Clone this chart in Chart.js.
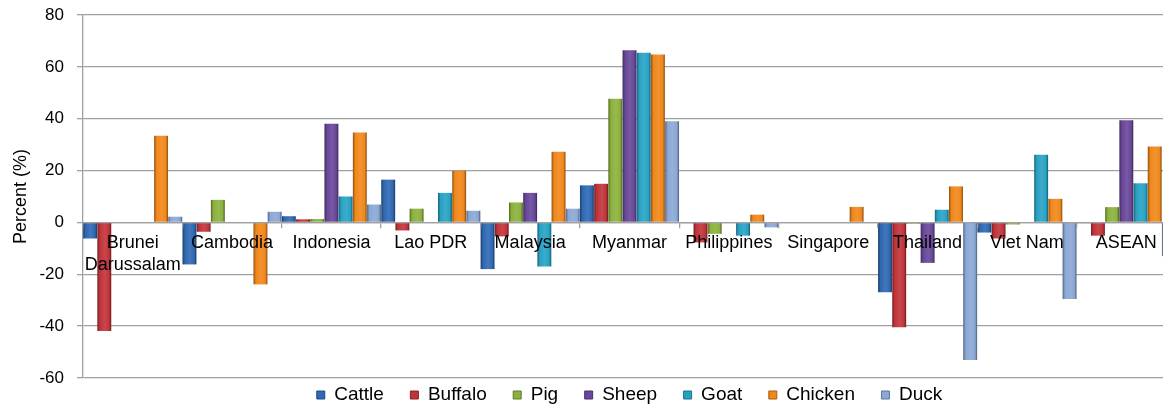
<!DOCTYPE html>
<html>
<head>
<meta charset="utf-8">
<script src="https://cdn.jsdelivr.net/npm/chart.js@4.4.1/dist/chart.umd.min.js"></script>
<style>
  html, body { margin: 0; padding: 0; background: #fff; overflow: hidden; }
  #wrap { width: 1178px; height: 407px; }
</style>
</head>
<body>
<div id="wrap"><canvas id="chart"></canvas></div>
<script>
const countries = [["Brunei", "Darussalam"], "Cambodia", "Indonesia", "Lao PDR", "Malaysia",
    "Myanmar", "Philippines", "Singapore", "Thailand", "Viet Nam", "ASEAN"];

const cattle  = [-6.2, -16.2, 2.4, 16.5, -18.0, 14.3, -0.3, 0, -26.9, -3.9, -0.3];
const buffalo = [-41.9, -3.6, 1.2, -3.1, -5.4, 14.9, -7.7, 0, -40.4, -6.2, -5.1];
const pig     = [0, 8.7, 1.3, 5.3, 7.7, 47.7, -4.4, 0, -0.5, -0.8, 5.9];
const sheep   = [0, 0, 38.1, 0, 11.4, 66.4, 0, 0, -15.6, 0, 39.4];
const goat    = [0, 0, 10.0, 11.4, -17.0, 65.4, -5.1, 0, 4.9, 26.1, 15.1];
const chicken = [33.4, -23.9, 34.7, 19.9, 27.3, 64.8, 3.0, 6.0, 13.9, 9.1, 29.3];
const duck    = [2.2, 4.1, 6.9, 4.5, 5.3, 39.0, -1.9, 0, -53.1, -29.5, -13.0];

const seriesNames = ["Cattle", "Buffalo", "Pig", "Sheep", "Goat", "Chicken", "Duck"];
const seriesData = [cattle, buffalo, pig, sheep, goat, chicken, duck];
const seriesColors = ["#2e68b2", "#c1333a", "#8ab13c", "#684699", "#27a2c4", "#f0871a", "#8aa7d5"];

const yTicks = [-60, -40, -20, 0, 20, 40, 60, 80];

const FONT = "'Liberation Sans', Arial, sans-serif";
const GRID = "#a0a0a0";
const BAR_PCT = 0.98;

// lighten (pct > 0) or darken (pct < 0) a hex colour
function shade(hex, pct) {
    const n = parseInt(hex.slice(1), 16);
    let r = n >> 16, g = (n >> 8) & 255, b = n & 255;
    const f = (c) => pct < 0 ? Math.round(c * (1 + pct)) : Math.round(c + (255 - c) * pct);
    return `rgb(${f(r)},${f(g)},${f(b)})`;
}

// horizontal bevel-like gradient across each bar, positioned from the x scale
function barFill(base) {
    return (ctx) => {
        const chart = ctx.chart;
        const xs = chart.scales.x;
        if (!xs || ctx.dataIndex === undefined || !xs.width) return base;
        const catW = xs.width / countries.length;
        const slot = catW / seriesNames.length;
        const center = xs.getPixelForValue(ctx.dataIndex) - catW / 2 + (ctx.datasetIndex + 0.5) * slot;
        const half = slot * BAR_PCT / 2;
        const g = chart.ctx.createLinearGradient(center - half, 0, center + half, 0);
        g.addColorStop(0, shade(base, -0.4));
        g.addColorStop(0.18, base);
        g.addColorStop(0.55, shade(base, 0.1));
        g.addColorStop(0.85, base);
        g.addColorStop(1, shade(base, -0.45));
        return g;
    };
}

// move the legend row up under the plot (keeps the wide item spacing)
const legendNudge = {
    id: "legendNudge",
    afterLayout(chart) {
        const lg = chart.legend;
        if (lg) {
            lg.top -= 19;
            lg.bottom = chart.height;
            lg.height = lg.bottom - lg.top;
        }
    }
};

new Chart(document.getElementById("chart"), {
    type: "bar",
    data: {
        labels: countries,
        datasets: seriesNames.map((name, i) => ({
            label: name,
            data: seriesData[i],
            backgroundColor: barFill(seriesColors[i]),
            borderWidth: 0,
            barPercentage: BAR_PCT,
            categoryPercentage: 1.0,
        })),
    },
    options: {
        responsive: true,
        maintainAspectRatio: false,
        animation: false,
        layout: { padding: { top: 15, right: 2, left: 0, bottom: 0 } },
        plugins: {
            tooltip: { enabled: false },
            legend: {
                position: "bottom",
                fullSize: false,
                maxHeight: 29,
                labels: {
                    font: { size: 19, family: FONT },
                    color: "#000",
                    boxWidth: 8,
                    boxHeight: 8,
                    padding: 26.5,
                    generateLabels: (chart) => chart.data.datasets.map((ds, i) => ({
                        text: ds.label,
                        fillStyle: seriesColors[i],
                        strokeStyle: shade(seriesColors[i], -0.3),
                        lineWidth: 1,
                        hidden: false,
                        datasetIndex: i,
                    })),
                },
            },
        },
        scales: {
            x: {
                type: "category",
                position: { y: 0 },
                offset: true,
                afterFit: (s) => { s.paddingTop = 0; s.paddingBottom = 0; },
                grid: {
                    display: true,
                    drawOnChartArea: false,
                    drawTicks: true,
                    tickLength: 5,
                    offset: true,
                    color: GRID,
                    lineWidth: 1.3,
                    z: 1,
                },
                border: { display: true, color: GRID, width: 1.3, z: 1 },
                ticks: {
                    font: { size: 18, family: FONT },
                    color: "#000",
                    padding: 5,
                    maxRotation: 0,
                    autoSkip: false,
                    z: 1,
                },
            },
            y: {
                min: -60,
                max: 80,
                afterBuildTicks: (s) => { s.ticks = yTicks.map((v) => ({ value: v })); },
                afterFit: (s) => { s.width = 83; s.paddingTop = 0; s.paddingBottom = 0; },
                grid: { color: GRID, lineWidth: 1.3, tickLength: 6 },
                border: { display: true, color: GRID, width: 1.3 },
                ticks: {
                    font: { size: 17, family: FONT },
                    color: "#000",
                    padding: 13,
                },
                title: {
                    display: true,
                    text: "Percent (%)",
                    font: { size: 18, family: FONT },
                    color: "#000",
                    padding: { top: 10, bottom: 0 },
                },
            },
        },
    },
    plugins: [legendNudge],
});
</script>
</body>
</html>
